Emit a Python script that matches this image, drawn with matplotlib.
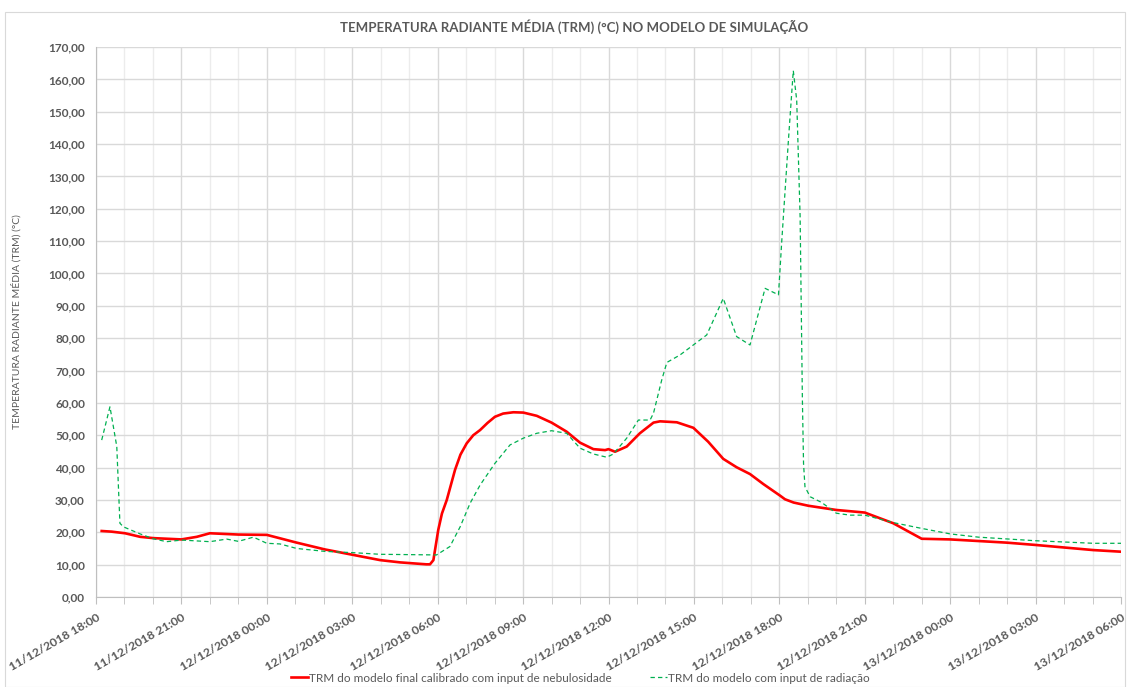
import matplotlib
matplotlib.use("Agg")
import matplotlib.pyplot as plt
import matplotlib.patches as mpatches
import pandas as pd
import numpy as np

# hours after 11/12/2018 18:00
red_hours = [0.2, 0.55, 1.02, 1.55, 2.01, 3.0, 3.54, 4.0, 5.0, 6.0, 7.05, 8.04, 9.04, 9.98,
             10.68, 11.6, 11.73, 11.85, 12.02, 12.15, 12.32, 12.61, 12.8, 13.02, 13.25, 13.49,
             13.75, 14.01, 14.3, 14.66, 15.01, 15.48, 16.0, 16.53, 17.0, 17.47, 17.88, 18.0,
             18.23, 18.64, 19.1, 19.58, 19.81, 20.4, 20.98, 21.5, 22.03, 22.5, 22.97, 23.44,
             24.03, 24.2, 24.5, 25.02, 26.0, 27.0, 28.0, 29.0, 30.0, 31.99, 32.98, 35.03, 36.0]
red_values = [20.4, 20.2, 19.7, 18.6, 18.2, 17.8, 18.6, 19.7, 19.3, 19.2, 16.8, 14.7, 13.0, 11.4,
              10.7, 10.1, 10.1, 11.4, 20.7, 25.8, 30.0, 39.3, 44.0, 47.5, 50.0, 51.6,
              53.8, 55.7, 56.7, 57.1, 57.0, 56.0, 53.9, 51.1, 47.7, 45.7, 45.4, 45.7,
              44.9, 46.5, 50.6, 53.9, 54.3, 54.0, 52.3, 48.0, 42.7, 40.1, 38.0, 34.9,
              31.3, 30.2, 29.2, 28.2, 26.9, 26.1, 22.8, 18.0, 17.8, 16.8, 16.1, 14.5, 14.0]

green_hours = [0.2, 0.49, 0.73, 0.84, 0.96, 1.55, 2.01, 2.48, 3.01, 4.0, 4.59, 5.0, 5.53, 6.0,
               6.46, 7.05, 8.04, 9.04, 9.98, 11.96, 12.43, 12.79, 13.14, 13.49, 14.01, 14.54,
               15.01, 15.48, 16.0, 16.53, 17.0, 17.47, 17.94, 18.17, 18.64, 19.05, 19.46,
               19.58, 19.87, 20.05, 20.51, 21.45, 22.03, 22.5, 22.97, 23.5, 23.97, 24.08,
               24.32, 24.49, 24.61, 24.73, 24.81, 24.85, 24.9, 25.08, 25.49, 26.0, 26.48,
               27.0, 28.0, 29.0, 30.0, 30.99, 32.98, 35.03, 36.0]
green_values = [48.5, 58.8, 46.5, 22.8, 21.7, 19.5, 18.0, 17.1, 17.6, 17.1, 17.9, 17.2, 18.5, 16.6,
                16.4, 15.0, 14.1, 13.7, 13.2, 13.0, 15.6, 21.7, 29.0, 34.6, 41.3, 47.0,
                49.1, 50.6, 51.4, 50.6, 46.0, 44.2, 43.2, 44.2, 49.1, 54.7, 54.7,
                56.8, 67.1, 72.5, 74.8, 81.0, 92.3, 80.5, 77.9, 95.4, 93.4, 109.3,
                141.3, 162.7, 153.6, 117.6, 60.9, 41.3, 34.1, 31.0, 29.2, 25.9, 25.3,
                25.3, 23.0, 21.2, 19.5, 18.5, 17.4, 16.6, 16.6]

start = pd.Timestamp("2018-12-11 18:00")
end = pd.Timestamp("2018-12-13 06:00")
red_t = start + pd.to_timedelta(red_hours, unit="h")
green_t = start + pd.to_timedelta(green_hours, unit="h")

title = "TEMPERATURA RADIANTE MÉDIA (TRM) (°C) NO MODELO DE SIMULAÇÃO"
ylabel = "TEMPERATURA RADIANTE MÉDIA (TRM) (°C)"
red_label = "TRM do modelo final calibrado com input de nebulosidade"
green_label = "TRM do modelo com input de radiação"

plt.rcParams['font.family'] = ['Lato', 'DejaVu Sans']
gray = "#595959"

fig = plt.figure(figsize=(11.3, 6.87), dpi=100)
ax = fig.add_axes([96/1130, 1-597/687, (1121-96)/1130, (597-47)/687])

# border
fig.patches.append(mpatches.Rectangle((5/1130, 0), 1120/1130, 1-12/687, transform=fig.transFigure,
                                      fill=False, edgecolor="#d9d9d9", linewidth=0.8))

ax.plot(red_t, red_values, color="#FF0000", linewidth=1.9, label=red_label, zorder=3,
        solid_joinstyle="round")
ax.plot(green_t, green_values, color="#00B050", linewidth=0.9, linestyle=(0, (3.5, 2.5)),
        label=green_label, zorder=3)

ax.set_xlim(start, end)
ax.set_ylim(0, 170)
ax.set_yticks(np.arange(0, 171, 10))
ax.set_yticklabels([f"{v:.2f}".replace(".", ",") for v in np.arange(0, 171, 10)],
                   fontsize=8.5, fontweight="bold", color=gray)

major = pd.date_range(start, end, freq="3h")
minor = pd.date_range(start, end, freq="1h")
ax.set_xticks(major)
ax.set_xticks(minor, minor=True)
ax.set_xticklabels([d.strftime("%d/%m/%Y %H:%M") for d in major], rotation=30, ha="right",
                   rotation_mode="anchor", fontsize=8.8, fontweight="bold", color=gray)

ax.grid(True, which="major", axis="both", color="#d9d9d9", linewidth=1.0, zorder=0)
ax.grid(True, which="minor", axis="x", color="#ececec", linewidth=1.0, zorder=0)
ax.set_axisbelow(True)
ax.tick_params(axis="x", which="both", length=5, color="#bfbfbf", pad=6)
ax.tick_params(axis="y", length=0, pad=8)
for s in ["top", "right"]:
    ax.spines[s].set_visible(False)
ax.spines["left"].set_color("#bfbfbf")
ax.spines["bottom"].set_color("#bfbfbf")

ax.set_ylabel(ylabel, fontsize=7.5, color=gray, labelpad=10)
ax.yaxis.set_label_coords(-0.073, 0.5)
fig.text(0.508, 1-27/687, title, ha="center", va="center", fontsize=9.5, fontweight="bold", color=gray)

leg = fig.legend(loc="center", bbox_to_anchor=(0.5137, 1-678/687), ncol=2, frameon=False,
                 fontsize=8.5, handlelength=1.45, columnspacing=3.2, handletextpad=0.1,
                 labelcolor=gray)

fig.savefig("out.png", dpi=100)
